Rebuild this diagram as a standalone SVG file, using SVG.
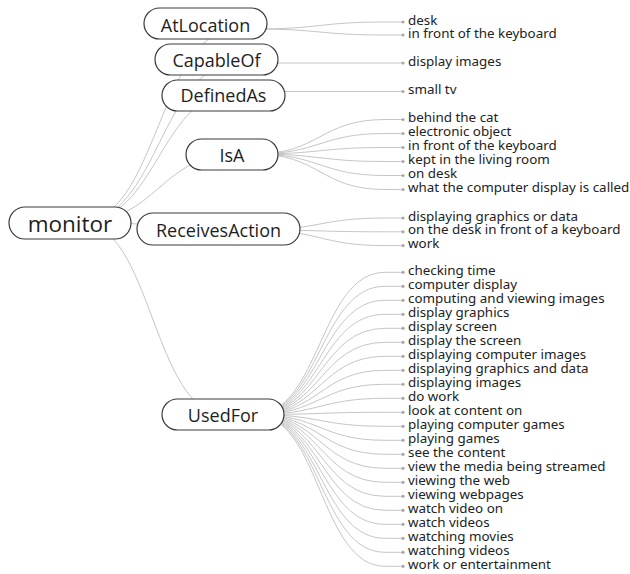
<svg xmlns="http://www.w3.org/2000/svg" width="630" height="574" viewBox="0 0 630 574">
  <style>
    .link { fill: none; stroke: #c6c6c6; stroke-width: 1; }
    .box { fill: #ffffff; stroke: #3a3a3a; stroke-width: 1.2; }
    .rel { font-family: "Open Sans", "Noto Sans", sans-serif; font-size: 18px; fill: #1e1e1e; text-anchor: middle; }
    .root { font-family: "Open Sans", "Noto Sans", sans-serif; font-size: 22.5px; fill: #1e1e1e; text-anchor: middle; }
    .leaf text { font-family: "Noto Sans", "Liberation Sans", sans-serif; font-size: 13.4px; fill: #222222; }
    .dot { fill: #a8a8a8; }
  </style>
  <rect width="630" height="574" fill="#ffffff"/>

  <!-- connectors -->
  <g id="connectors">
    <!-- root to relations -->
    <path class="link" d="M80,222 C158.5,222 158.5,29 237,29"/>
    <path class="link" d="M80,222 C159.5,222 159.5,63 239,63"/>
    <path class="link" d="M80,222 C158.8,222 158.8,91.5 237.5,91.5"/>
    <path class="link" d="M80,222 C158.8,222 158.8,154 237.5,154"/>
    <path class="link" d="M80,222 C158.5,222 158.5,230 237,230"/>
    <path class="link" d="M80,222 C152.5,222 152.5,414.5 225,414.5"/>
    <!-- AtLocation -->
    <path class="link" d="M255,29 C320,29 320,22 385,22 L403,22"/>
    <path class="link" d="M255,29 C320,29 320,35 385,35 L403,35"/>
    <!-- CapableOf -->
    <path class="link" d="M255,63 L403,63"/>
    <!-- DefinedAs -->
    <path class="link" d="M255,91.5 L403,91.5"/>
    <!-- IsA -->
    <path class="link" d="M255,154 C320,154 320,119.5 385,119.5 L403,119.5"/>
    <path class="link" d="M255,154 C320,154 320,133.5 385,133.5 L403,133.5"/>
    <path class="link" d="M255,154 C320,154 320,147.5 385,147.5 L403,147.5"/>
    <path class="link" d="M255,154 C320,154 320,161.5 385,161.5 L403,161.5"/>
    <path class="link" d="M255,154 C320,154 320,175.5 385,175.5 L403,175.5"/>
    <path class="link" d="M255,154 C320,154 320,189.5 385,189.5 L403,189.5"/>
    <!-- ReceivesAction -->
    <path class="link" d="M255,230 C320,230 320,218 385,218 L403,218"/>
    <path class="link" d="M255,230 C320,230 320,231.8 385,231.8 L403,231.8"/>
    <path class="link" d="M255,230 C320,230 320,245.6 385,245.6 L403,245.6"/>
    <!-- UsedFor -->
    <path class="link" d="M255,414.5 C320,414.5 320,272.3 385,272.3 L403,272.3"/>
    <path class="link" d="M255,414.5 C320,414.5 320,286.3 385,286.3 L403,286.3"/>
    <path class="link" d="M255,414.5 C320,414.5 320,300.3 385,300.3 L403,300.3"/>
    <path class="link" d="M255,414.5 C320,414.5 320,314.3 385,314.3 L403,314.3"/>
    <path class="link" d="M255,414.5 C320,414.5 320,328.3 385,328.3 L403,328.3"/>
    <path class="link" d="M255,414.5 C320,414.5 320,342.3 385,342.3 L403,342.3"/>
    <path class="link" d="M255,414.5 C320,414.5 320,356.3 385,356.3 L403,356.3"/>
    <path class="link" d="M255,414.5 C320,414.5 320,370.3 385,370.3 L403,370.3"/>
    <path class="link" d="M255,414.5 C320,414.5 320,384.3 385,384.3 L403,384.3"/>
    <path class="link" d="M255,414.5 C320,414.5 320,398.3 385,398.3 L403,398.3"/>
    <path class="link" d="M255,414.5 C320,414.5 320,412.3 385,412.3 L403,412.3"/>
    <path class="link" d="M255,414.5 C320,414.5 320,426.3 385,426.3 L403,426.3"/>
    <path class="link" d="M255,414.5 C320,414.5 320,440.3 385,440.3 L403,440.3"/>
    <path class="link" d="M255,414.5 C320,414.5 320,454.3 385,454.3 L403,454.3"/>
    <path class="link" d="M255,414.5 C320,414.5 320,468.3 385,468.3 L403,468.3"/>
    <path class="link" d="M255,414.5 C320,414.5 320,482.3 385,482.3 L403,482.3"/>
    <path class="link" d="M255,414.5 C320,414.5 320,496.3 385,496.3 L403,496.3"/>
    <path class="link" d="M255,414.5 C320,414.5 320,510.3 385,510.3 L403,510.3"/>
    <path class="link" d="M255,414.5 C320,414.5 320,524.3 385,524.3 L403,524.3"/>
    <path class="link" d="M255,414.5 C320,414.5 320,538.3 385,538.3 L403,538.3"/>
    <path class="link" d="M255,414.5 C320,414.5 320,552.3 385,552.3 L403,552.3"/>
    <path class="link" d="M255,414.5 C320,414.5 320,566.3 385,566.3 L403,566.3"/>
  </g>

  <!-- root -->
  <g id="monitor">
    <rect class="box" x="9" y="207" width="122" height="32" rx="16"/>
    <text class="root" x="70" y="231.5">monitor</text>
  </g>

  <!-- relations -->
  <g id="AtLocation">
    <rect class="box" x="144" y="8" width="123" height="31" rx="15.5"/>
    <text class="rel" x="205.5" y="31.5">AtLocation</text>
  </g>
  <g id="CapableOf">
    <rect class="box" x="155" y="44" width="123" height="31" rx="15.5"/>
    <text class="rel" x="216.5" y="66.5">CapableOf</text>
  </g>
  <g id="DefinedAs">
    <rect class="box" x="162" y="80" width="123" height="31" rx="15.5"/>
    <text class="rel" x="223.5" y="102.3">DefinedAs</text>
  </g>
  <g id="IsA">
    <rect class="box" x="186" y="139" width="92" height="31" rx="15.5"/>
    <text class="rel" x="232" y="161.6">IsA</text>
  </g>
  <g id="ReceivesAction">
    <rect class="box" x="137" y="213" width="163" height="32" rx="16"/>
    <text class="rel" x="218.5" y="237.3">ReceivesAction</text>
  </g>
  <g id="UsedFor">
    <rect class="box" x="162" y="399" width="122" height="31" rx="15.5"/>
    <text class="rel" x="223" y="421.6">UsedFor</text>
  </g>

  <!-- leaves -->
  <g id="leaves-AtLocation" class="leaf">
    <g id="leaf-desk"><circle class="dot" cx="403" cy="22" r="1.6"/><text x="408" y="24.5">desk</text></g>
    <g id="leaf-in-front-of-the-keyboard-1"><circle class="dot" cx="403" cy="35" r="1.6"/><text x="408" y="37.5">in front of the keyboard</text></g>
  </g>
  <g id="leaves-CapableOf" class="leaf">
    <g id="leaf-display-images"><circle class="dot" cx="403" cy="63" r="1.6"/><text x="408" y="65.5">display images</text></g>
  </g>
  <g id="leaves-DefinedAs" class="leaf">
    <g id="leaf-small-tv"><circle class="dot" cx="403" cy="91.5" r="1.6"/><text x="408" y="94">small tv</text></g>
  </g>
  <g id="leaves-IsA" class="leaf">
    <g id="leaf-behind-the-cat"><circle class="dot" cx="403" cy="119.5" r="1.6"/><text x="408" y="122">behind the cat</text></g>
    <g id="leaf-electronic-object"><circle class="dot" cx="403" cy="133.5" r="1.6"/><text x="408" y="136">electronic object</text></g>
    <g id="leaf-in-front-of-the-keyboard-2"><circle class="dot" cx="403" cy="147.5" r="1.6"/><text x="408" y="150">in front of the keyboard</text></g>
    <g id="leaf-kept-in-the-living-room"><circle class="dot" cx="403" cy="161.5" r="1.6"/><text x="408" y="164">kept in the living room</text></g>
    <g id="leaf-on-desk"><circle class="dot" cx="403" cy="175.5" r="1.6"/><text x="408" y="178">on desk</text></g>
    <g id="leaf-what-the-computer-display-is-called"><circle class="dot" cx="403" cy="189.5" r="1.6"/><text x="408" y="192">what the computer display is called</text></g>
  </g>
  <g id="leaves-ReceivesAction" class="leaf">
    <g id="leaf-displaying-graphics-or-data"><circle class="dot" cx="403" cy="218" r="1.6"/><text x="408" y="220.5">displaying graphics or data</text></g>
    <g id="leaf-on-the-desk-in-front-of-a-keyboard"><circle class="dot" cx="403" cy="231.8" r="1.6"/><text x="408" y="234.3">on the desk in front of a keyboard</text></g>
    <g id="leaf-work"><circle class="dot" cx="403" cy="245.6" r="1.6"/><text x="408" y="248.1">work</text></g>
  </g>
  <g id="leaves-UsedFor" class="leaf">
    <g id="leaf-checking-time"><circle class="dot" cx="403" cy="272.3" r="1.6"/><text x="408" y="274.8">checking time</text></g>
    <g id="leaf-computer-display"><circle class="dot" cx="403" cy="286.3" r="1.6"/><text x="408" y="288.8">computer display</text></g>
    <g id="leaf-computing-and-viewing-images"><circle class="dot" cx="403" cy="300.3" r="1.6"/><text x="408" y="302.8">computing and viewing images</text></g>
    <g id="leaf-display-graphics"><circle class="dot" cx="403" cy="314.3" r="1.6"/><text x="408" y="316.8">display graphics</text></g>
    <g id="leaf-display-screen"><circle class="dot" cx="403" cy="328.3" r="1.6"/><text x="408" y="330.8">display screen</text></g>
    <g id="leaf-display-the-screen"><circle class="dot" cx="403" cy="342.3" r="1.6"/><text x="408" y="344.8">display the screen</text></g>
    <g id="leaf-displaying-computer-images"><circle class="dot" cx="403" cy="356.3" r="1.6"/><text x="408" y="358.8">displaying computer images</text></g>
    <g id="leaf-displaying-graphics-and-data"><circle class="dot" cx="403" cy="370.3" r="1.6"/><text x="408" y="372.8">displaying graphics and data</text></g>
    <g id="leaf-displaying-images"><circle class="dot" cx="403" cy="384.3" r="1.6"/><text x="408" y="386.8">displaying images</text></g>
    <g id="leaf-do-work"><circle class="dot" cx="403" cy="398.3" r="1.6"/><text x="408" y="400.8">do work</text></g>
    <g id="leaf-look-at-content-on"><circle class="dot" cx="403" cy="412.3" r="1.6"/><text x="408" y="414.8">look at content on</text></g>
    <g id="leaf-playing-computer-games"><circle class="dot" cx="403" cy="426.3" r="1.6"/><text x="408" y="428.8">playing computer games</text></g>
    <g id="leaf-playing-games"><circle class="dot" cx="403" cy="440.3" r="1.6"/><text x="408" y="442.8">playing games</text></g>
    <g id="leaf-see-the-content"><circle class="dot" cx="403" cy="454.3" r="1.6"/><text x="408" y="456.8">see the content</text></g>
    <g id="leaf-view-the-media-being-streamed"><circle class="dot" cx="403" cy="468.3" r="1.6"/><text x="408" y="470.8">view the media being streamed</text></g>
    <g id="leaf-viewing-the-web"><circle class="dot" cx="403" cy="482.3" r="1.6"/><text x="408" y="484.8">viewing the web</text></g>
    <g id="leaf-viewing-webpages"><circle class="dot" cx="403" cy="496.3" r="1.6"/><text x="408" y="498.8">viewing webpages</text></g>
    <g id="leaf-watch-video-on"><circle class="dot" cx="403" cy="510.3" r="1.6"/><text x="408" y="512.8">watch video on</text></g>
    <g id="leaf-watch-videos"><circle class="dot" cx="403" cy="524.3" r="1.6"/><text x="408" y="526.8">watch videos</text></g>
    <g id="leaf-watching-movies"><circle class="dot" cx="403" cy="538.3" r="1.6"/><text x="408" y="540.8">watching movies</text></g>
    <g id="leaf-watching-videos"><circle class="dot" cx="403" cy="552.3" r="1.6"/><text x="408" y="554.8">watching videos</text></g>
    <g id="leaf-work-or-entertainment"><circle class="dot" cx="403" cy="566.3" r="1.6"/><text x="408" y="568.8">work or entertainment</text></g>
  </g>
</svg>
